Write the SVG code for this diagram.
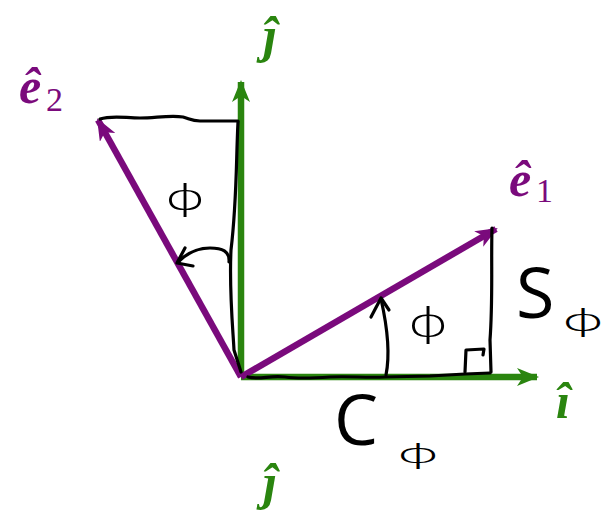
<svg xmlns="http://www.w3.org/2000/svg" width="608" height="512" viewBox="0 0 608 512">
<style>
.ax{stroke:#2a850f;stroke-width:6.5;fill:none}
.vec{stroke:#7a0a7c;stroke-width:6.5;fill:none}
.hand{stroke:#000;stroke-width:3.2;fill:none;stroke-linecap:round;stroke-linejoin:round}
.lbl{font-family:"Liberation Serif","DejaVu Serif",serif;font-style:italic;font-weight:bold}
.sub{font-family:"Liberation Serif","DejaVu Serif",serif;font-style:normal;font-weight:normal}
.g{fill:#2a850f}
.p{fill:#7a0a7c}
.hw{font-family:"Open Sans","DejaVu Sans",sans-serif;font-weight:400;fill:#000}
.phi{font-family:"Open Sans","DejaVu Sans",sans-serif;font-weight:300;fill:#000;text-anchor:middle}
</style>
<defs>
<marker id="ahg" viewBox="0 0 22 18" refX="20" refY="9" markerWidth="22" markerHeight="18" markerUnits="userSpaceOnUse" orient="auto">
<path d="M0,0 L22,9 L0,18 L6,9 Z" fill="#2a850f"/>
</marker>
<marker id="ahp" viewBox="0 0 22 18" refX="20" refY="9" markerWidth="22" markerHeight="18" markerUnits="userSpaceOnUse" orient="auto">
<path d="M0,0 L22,9 L0,18 L6,9 Z" fill="#7a0a7c"/>
</marker>
</defs>
<g id="connectors">
<line id="axis-j" class="ax" x1="241" y1="377" x2="241" y2="82" marker-end="url(#ahg)"/>
<line id="axis-i" class="ax" x1="241" y1="377" x2="537" y2="377" marker-end="url(#ahg)"/>
<line id="vec-e1" class="vec" x1="241" y1="377" x2="496" y2="229" marker-end="url(#ahp)"/>
<line id="vec-e2" class="vec" x1="241" y1="377" x2="98" y2="120" marker-end="url(#ahp)"/>
</g>
<g id="hand-lines">
<path class="hand" d="M100,119 C112,115 125,118 140,118 C155,118 170,115 183,117 C190,119 192,121 200,121 L238,121"/>
<path class="hand" d="M238,122 C236,160 237,200 231,250 C229,290 233,330 234,350 L241,372"/>
<path class="hand" d="M229,262 C230,251 222,248 210,248 C196,248 186,254 178,262"/>
<path class="hand" d="M185,248 L177,263 L193,266"/>
<path class="hand" d="M248,377 C260,380 270,375 285,377 C300,379 315,378 330,377 C350,376 365,378 385,377 L430,376 L465,374 L490,373"/>
<path class="hand" d="M492,228 C491,260 493,300 490,340 L491,372"/>
<path class="hand" d="M465,372 L466,350 L484,349 L483,355"/>
<path class="hand" d="M386,375 C390,355 388,330 381,299"/>
<path class="hand" d="M371,317 L381,298 L389,310"/>
</g>
<g id="label-j-top"><text class="lbl g" x="263" y="52" font-size="50">ĵ</text></g>
<g id="label-e2"><text class="lbl p" x="19" y="103" font-size="50">ê</text><text class="sub p" x="46" y="111" font-size="34">2</text></g>
<g id="label-e1"><text class="lbl p" x="509" y="196" font-size="50">ê</text><text class="sub p" x="536" y="202" font-size="34">1</text></g>
<g id="label-i"><text class="lbl g" x="556" y="418" font-size="50">î</text></g>
<g id="label-j-bottom"><text class="lbl g" x="263" y="499" font-size="50">ĵ</text></g>
<g id="label-phi-left"><text class="phi" transform="translate(185,210) scale(1.7,0.95)" font-size="38">ϕ</text></g>
<g id="label-phi-right"><text class="phi" transform="translate(428,336) scale(1.7,1.05)" font-size="38">ϕ</text></g>
<g id="label-s"><text class="hw" x="516" y="318" font-size="70">S</text><text class="phi" transform="translate(583,331) scale(1.8,0.8)" font-size="38">ϕ</text></g>
<g id="label-c"><text class="hw" x="334" y="445" font-size="70">C</text><text class="phi" transform="translate(418,463) scale(1.8,0.72)" font-size="38">ϕ</text></g>
</svg>
